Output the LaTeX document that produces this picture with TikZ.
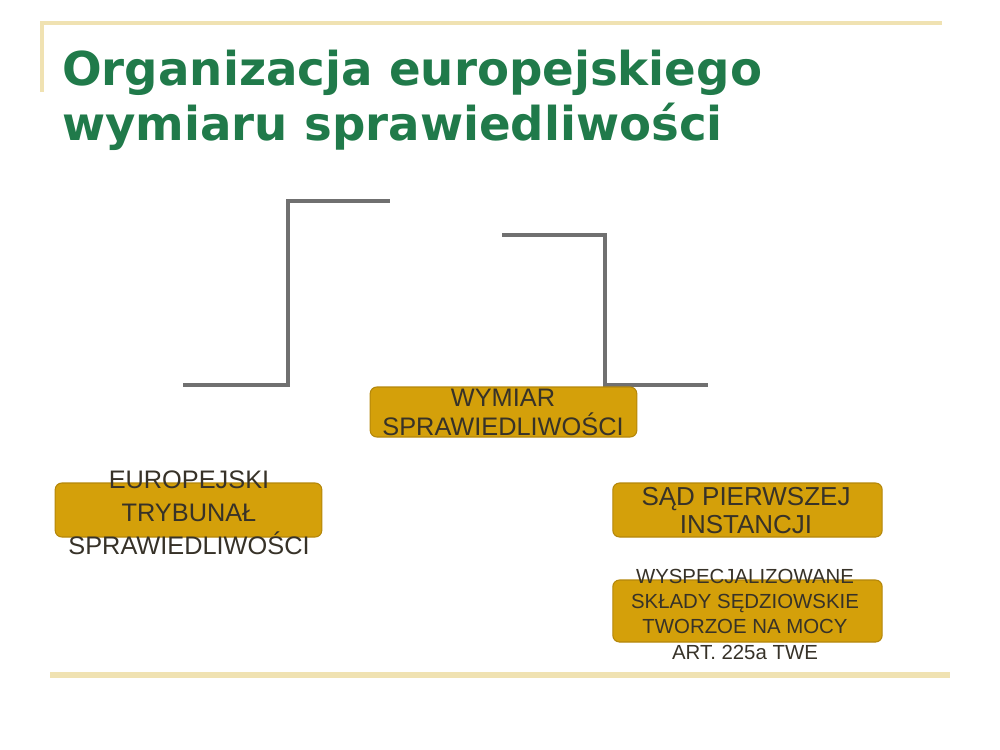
\documentclass[tikz,border=0pt]{standalone}
\usepackage{fontspec}
\setmainfont{Liberation Sans}
\newfontfamily\titlefont{DejaVu Sans}
\definecolor{titlegreen}{RGB}{32,122,74}
\definecolor{beige}{RGB}{240,226,178}
\definecolor{gold}{RGB}{212,160,10}
\definecolor{goldedge}{RGB}{180,135,10}
\definecolor{linegray}{RGB}{112,112,112}
\definecolor{txt}{RGB}{55,50,40}
\begin{document}
\begin{tikzpicture}[x=0.75pt,y=-0.75pt,
  goldbox/.style={draw=goldedge,line width=0.8pt,fill=gold,rounded corners=5pt,inner sep=0pt},
  boxtext/.style={text=txt,align=center,inner sep=0pt},
  conn/.style={draw=linegray,line width=3pt},
  rule/.style={draw=beige,line width=3.5pt}]
\useasboundingbox (0,0) rectangle (1000,750);
% decorative rules
\coordinate (tl) at (40,23); \coordinate (tr) at (942,23); \coordinate (tv) at (42,92);
\draw[rule] (tr) -- (tl |- tr) ;
\draw[rule,line width=3pt] (42,23) -- (tv);
\coordinate (bl) at (50,675); \coordinate (br) at (950,675);
\draw[rule,line width=4pt] (bl) -- (br);
% title
\node[anchor=base west,text=titlegreen,font=\titlefont\bfseries\fontsize{35}{41}\selectfont,inner sep=0pt] (t1) at (62,85) {Organizacja europejskiego};
\node[anchor=base west,text=titlegreen,font=\titlefont\bfseries\fontsize{35}{41}\selectfont,inner sep=0pt] (t2) at (62,140) {wymiaru sprawiedliwości};
% connectors
\coordinate (a1) at (183,385); \coordinate (a2) at (288,385); \coordinate (a3) at (288,201); \coordinate (a4) at (390,201);
\draw[conn] (a1) -- (a2) -- (a3) -- (a4);
\coordinate (b1) at (502,235); \coordinate (b2) at (605,235); \coordinate (b3) at (605,385); \coordinate (b4) at (708,385);
\draw[conn] (b1) -- (b2) -- (b3) -- (b4);
% boxes
\node[goldbox,minimum width=200pt,minimum height=37.5pt] (wym) at (503.5,412) {};
\node[goldbox,minimum width=200pt,minimum height=40.5pt] (ets) at (188.5,510) {};
\node[goldbox,minimum width=202pt,minimum height=40.5pt] (spi) at (747.5,510) {};
\node[goldbox,minimum width=202pt,minimum height=46.5pt] (wss) at (747.5,611) {};
% texts
\node[boxtext,font=\fontsize{19}{21.75}\selectfont] (wymt) at (503,412.5) {WYMIAR\\SPRAWIEDLIWOŚCI};
\node[boxtext,font=\fontsize{19}{24.75}\selectfont] (etst) at (189,513) {EUROPEJSKI\\TRYBUNAŁ\\SPRAWIEDLIWOŚCI};
\node[boxtext,font=\fontsize{19.5}{21}\selectfont] (spit) at (746,511) {SĄD PIERWSZEJ\\INSTANCJI};
\node[boxtext,font=\fontsize{15.3}{19}\selectfont] (wsst) at (745,614) {WYSPECJALIZOWANE\\SKŁADY SĘDZIOWSKIE\\TWORZOE NA MOCY\\ART. 225a TWE};
\end{tikzpicture}
\end{document}
